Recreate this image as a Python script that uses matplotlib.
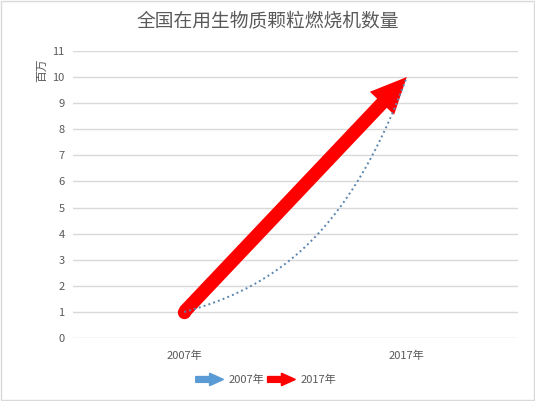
import numpy as np
import matplotlib
matplotlib.use("Agg")
import matplotlib.pyplot as plt
from matplotlib.patches import FancyArrow, Patch, Rectangle
from matplotlib.legend_handler import HandlerPatch

plt.rcParams['font.family'] = ['Noto Sans CJK SC', 'DejaVu Sans']

title = "全国在用生物质颗粒燃烧机数量"
unit_label = "百万"
categories = ["2007年", "2017年"]
values = [1, 10]
legend_labels = ["2007年", "2017年"]
yticks = list(range(0, 12))

TXT = "#595959"
GRID = "#D9D9D9"
RED = "#FF0000"
BLUE = "#5B9BD5"
TREND = "#5B86B0"

fig = plt.figure(figsize=(5.35, 4.01), dpi=100)
fig.patch.set_facecolor("white")
fig.add_artist(Rectangle((0.002, 0.002), 0.996, 0.996, transform=fig.transFigure,
                         fill=False, edgecolor=GRID, linewidth=1))

ax = fig.add_axes([0.1364, 0.157, 0.832, 0.716])
x = np.arange(len(categories))
ax.set_xlim(-0.5, len(categories) - 0.5)
ax.set_ylim(0, 11)
ax.set_yticks(yticks)
ax.set_xticks(x)
ax.set_xticklabels(categories)
ax.tick_params(axis='both', length=0, labelsize=8, colors=TXT)
ax.tick_params(axis='x', pad=9)
ax.tick_params(axis='y', pad=6)
for s in ax.spines.values():
    s.set_visible(False)
ax.grid(axis='y', color=GRID, linewidth=1)
ax.set_axisbelow(True)

# red arrow for the series
ax.annotate('', xy=(x[-1], values[-1]), xytext=(x[0], values[0]),
            arrowprops=dict(arrowstyle='simple,head_width=24,head_length=26,tail_width=9.6',
                            mutation_scale=1, color=RED, shrinkA=0, shrinkB=0,
                            linewidth=0), zorder=3)
ax.plot([x[0]], [values[0]], 'o', color=RED, markersize=9.6, markeredgewidth=0, zorder=3)

# exponential trendline (Excel style, x = 1..n)
xe = np.arange(1, len(values) + 1)
b, lna = np.polyfit(xe, np.log(values), 1)
xs = np.linspace(xe[0], xe[-1], 200)
ys = np.exp(lna) * np.exp(b * xs)
ax.plot(xs - 1, ys, color=TREND, linewidth=1.4, linestyle=(0, (1, 1.6)), zorder=4)

fig.text(0.5, 0.945, title, ha='center', va='center', fontsize=13.5, color=TXT)
fig.text(0.077, 0.825, unit_label, ha='center', va='center', rotation=90,
         fontsize=8.5, color=TXT)


def make_arrow(legend, orig_handle, xdescent, ydescent, width, height, fontsize):
    return FancyArrow(-xdescent, height / 2 - ydescent, width, 0,
                      width=0.75 * height, head_width=1.6 * height,
                      head_length=0.5 * width, length_includes_head=True)


handles = [Patch(color=BLUE), Patch(color=RED)]
leg = fig.legend(handles, legend_labels, loc='center', bbox_to_anchor=(0.497, 0.052),
                 ncol=2, frameon=False, fontsize=8, handlelength=2.5,
                 handletextpad=0.45, columnspacing=0.3,
                 handler_map={Patch: HandlerPatch(patch_func=make_arrow)})
for t in leg.get_texts():
    t.set_color(TXT)

fig.savefig("out.png", dpi=100, facecolor="white")
